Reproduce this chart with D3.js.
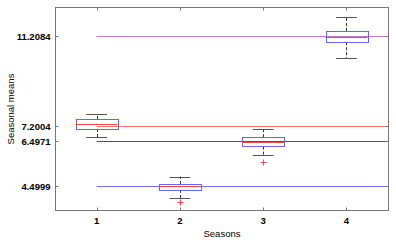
<!DOCTYPE html>
<html>
<head>
<meta charset="utf-8">
<script src="https://d3js.org/d3.v7.min.js"></script>
<style>
  body { margin: 0; background: #fff; }
  svg text { font-family: "Liberation Sans", Arial, sans-serif; fill: #000; }
</style>
</head>
<body>
<script>
// seasons on the x axis
var seasons = [1, 2, 3, 4];
// box statistics per season
var whiskerLow  = [6.683, 3.949, 5.889, 10.224];
var q1          = [7.055, 4.320, 6.261, 10.941];
var medians     = [7.265, 4.480, 6.486, 11.165];
var q3          = [7.503, 4.590, 6.683, 11.447];
var whiskerHigh = [7.727, 4.917, 7.055, 12.088];
var outliers    = [[], [3.796], [5.589], []];
// seasonal means drawn as horizontal lines
var meanValues = [11.2084, 7.2004, 6.4971, 4.4999];
var meanColors = ["#cc77cc", "#ff7070", "#555555", "#7070ff"];
var yTicks = [4.4999, 6.4971, 7.2004, 11.2084];

var W = 396, H = 242;
var margin = {left: 55, right: 8, top: 7, bottom: 32};

var svg = d3.select("body").append("svg")
    .attr("width", W).attr("height", H);

var x = d3.scaleLinear().domain([0.5, 4.5]).range([margin.left, W - margin.right]);
var y = d3.scaleLinear().domain([3.42, 12.52]).range([H - margin.bottom, margin.top]);

function px(v) { return Math.round(v) + 0.5; }

var g = svg.append("g");

// mean lines from x = 1 to the right edge
g.selectAll(".mean").data(meanValues).enter().append("line")
  .attr("x1", x(1)).attr("x2", x(4.5))
  .attr("y1", function(d){ return px(y(d)); })
  .attr("y2", function(d){ return px(y(d)); })
  .attr("stroke", function(d, i){ return meanColors[i]; })
  .attr("stroke-width", 1);

var bw = 0.5, cw = 0.25;

seasons.forEach(function(s, i) {
  var b = g.append("g");
  // whiskers
  b.append("line").attr("x1", px(x(s))).attr("x2", px(x(s)))
    .attr("y1", y(q3[i])).attr("y2", y(whiskerHigh[i]))
    .attr("stroke", "#333").attr("stroke-dasharray", "3,2");
  b.append("line").attr("x1", px(x(s))).attr("x2", px(x(s)))
    .attr("y1", y(q1[i])).attr("y2", y(whiskerLow[i]))
    .attr("stroke", "#333").attr("stroke-dasharray", "3,2");
  // caps
  [whiskerLow[i], whiskerHigh[i]].forEach(function(v) {
    b.append("line").attr("x1", x(s - cw / 2)).attr("x2", x(s + cw / 2))
      .attr("y1", px(y(v))).attr("y2", px(y(v)))
      .attr("stroke", "#555");
  });
  // box
  b.append("rect")
    .attr("x", px(x(s - bw / 2))).attr("y", px(y(q3[i])))
    .attr("width", Math.round(x(s + bw / 2) - x(s - bw / 2)))
    .attr("height", Math.round(y(q1[i]) - y(q3[i])))
    .attr("fill", "none").attr("stroke", "#6666ff");
  // median
  b.append("line").attr("x1", x(s - bw / 2)).attr("x2", x(s + bw / 2))
    .attr("y1", px(y(medians[i]))).attr("y2", px(y(medians[i])))
    .attr("stroke", "#ff4444");
  // outliers
  outliers[i].forEach(function(v) {
    var cx = px(x(s)), cy = px(y(v));
    b.append("path").attr("d", "M" + (cx - 3) + "," + cy + "H" + (cx + 3) + "M" + cx + "," + (cy - 3) + "V" + (cy + 3))
      .attr("stroke", "#ff4444");
  });
});

// frame and ticks
var x0 = margin.left + 0.5, x1 = W - margin.right + 0.5;
var y0 = margin.top + 0.5, y1 = H - margin.bottom + 0.5;
svg.append("rect").attr("x", x0).attr("y", y0)
  .attr("width", x1 - x0).attr("height", y1 - y0)
  .attr("fill", "none").attr("stroke", "#777");

var tl = 3;
seasons.forEach(function(s) {
  var xx = px(x(s));
  svg.append("line").attr("x1", xx).attr("x2", xx).attr("y1", y1).attr("y2", y1 - tl).attr("stroke", "#777");
  svg.append("line").attr("x1", xx).attr("x2", xx).attr("y1", y0).attr("y2", y0 + tl).attr("stroke", "#777");
  svg.append("text").attr("x", x(s)).attr("y", y1 + 13)
    .attr("text-anchor", "middle").attr("font-size", "9.5px").attr("font-weight", "bold")
    .text(s);
});
yTicks.forEach(function(v) {
  var yy = px(y(v));
  svg.append("line").attr("x1", x0).attr("x2", x0 + tl).attr("y1", yy).attr("y2", yy).attr("stroke", "#777");
  svg.append("line").attr("x1", x1).attr("x2", x1 - tl).attr("y1", yy).attr("y2", yy).attr("stroke", "#777");
  svg.append("text").attr("x", x0 - 5).attr("y", yy + 3.5)
    .attr("text-anchor", "end").attr("font-size", "9.5px").attr("font-weight", "bold")
    .text(v.toFixed(4));
});

svg.append("text").attr("x", (x0 + x1) / 2).attr("y", 237)
  .attr("text-anchor", "middle").attr("font-size", "9.5px")
  .text("Seasons");
svg.append("text")
  .attr("transform", "translate(14," + ((y0 + y1) / 2) + ") rotate(-90)")
  .attr("text-anchor", "middle").attr("font-size", "9.5px")
  .text("Seasonal means");
</script>
</body>
</html>
